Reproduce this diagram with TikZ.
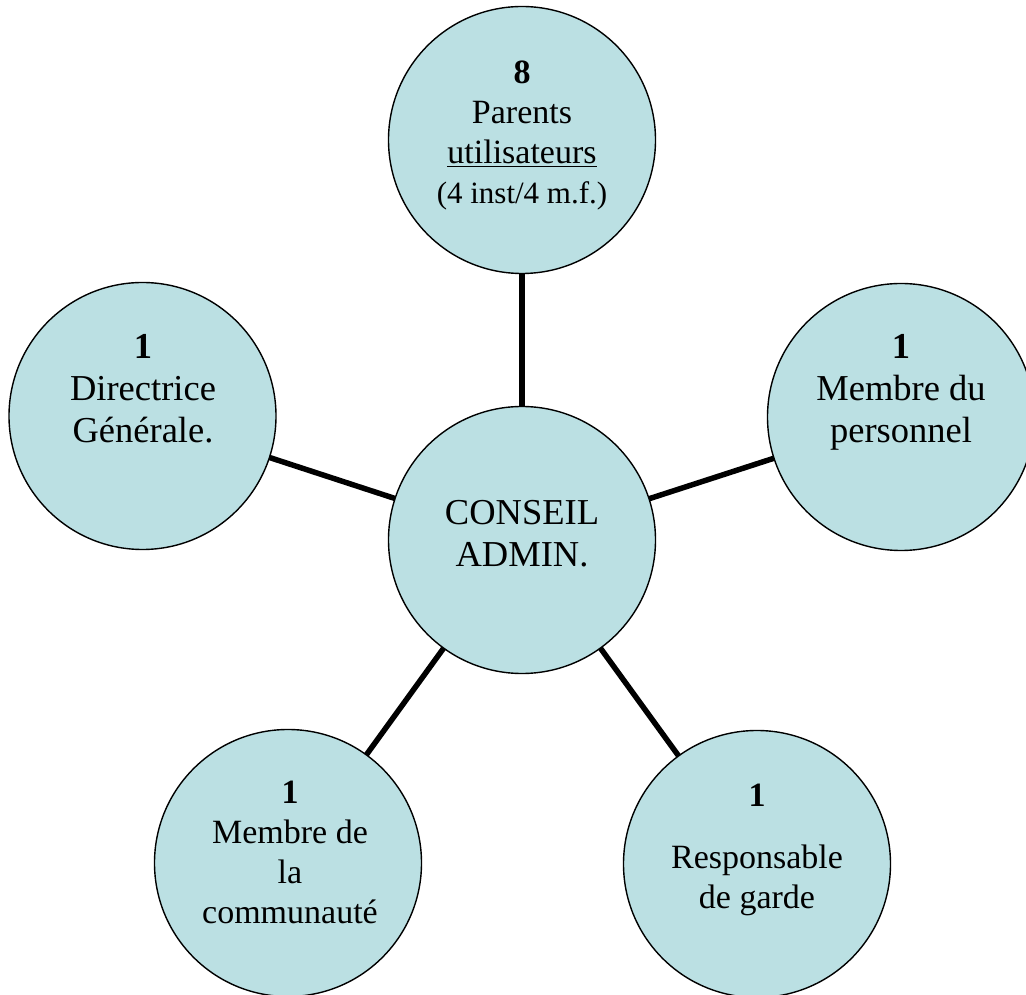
\documentclass[tikz,border=0pt]{standalone}
\usepackage{fontspec}
\setmainfont{Liberation Serif}
\definecolor{bubble}{RGB}{187,224,227}
\begin{document}
\begin{tikzpicture}[x=1pt,y=1pt,
  bubble/.style={circle,draw=black,line width=1.4pt,fill=bubble,minimum size=267pt,inner sep=0pt},
  link/.style={line width=5.5pt,black},
  big/.style={align=center,font=\fontsize{36.5}{42}\selectfont},
  mid/.style={align=center,font=\fontsize{34}{40}\selectfont}]
\useasboundingbox (0,0) rectangle (1026,994);
\clip (0,0) rectangle (1026,994);
% connectors first (behind circles)
\coordinate (pC) at (522,454);
\coordinate (pT) at (522,854);
\coordinate (pL) at (142.5,578);
\coordinate (pR) at (901,577);
\coordinate (pBL) at (288,131);
\coordinate (pBR) at (757,130);
\draw[link] (pC) -- (pT);
\draw[link] (pC) -- (pL);
\draw[link] (pC) -- (pR);
\draw[link] (pC) -- (pBL);
\draw[link] (pC) -- (pBR);
% circles
\node[bubble] (C) at (pC) {};
\node[bubble] (T) at (pT) {};
\node[bubble] (L) at (pL) {};
\node[bubble] (R) at (pR) {};
\node[bubble] (BL) at (pBL) {};
\node[bubble] (BR) at (pBR) {};
% texts
\node[mid] (tT) at (522,858) {\textbf{8}\\Parents\\\underline{utilisateurs}\\{\fontsize{31}{40}\selectfont (4 inst/4 m.f.)}};
\node[big] (tL) at (143,605) {\textbf{1}\\Directrice\\Générale.};
\node[big] (tR) at (901,602) {\textbf{1}\\Membre du\\personnel};
\node[big] (tC) at (522,460) {CONSEIL\\ADMIN.};
\node[mid] (tBL) at (290,142) {\textbf{1}\\Membre de\\la\\communauté};
\node[mid] (tBR) at (757,144.5) {\textbf{1}\\[22pt]Responsable\\de garde};
\end{tikzpicture}
\end{document}
